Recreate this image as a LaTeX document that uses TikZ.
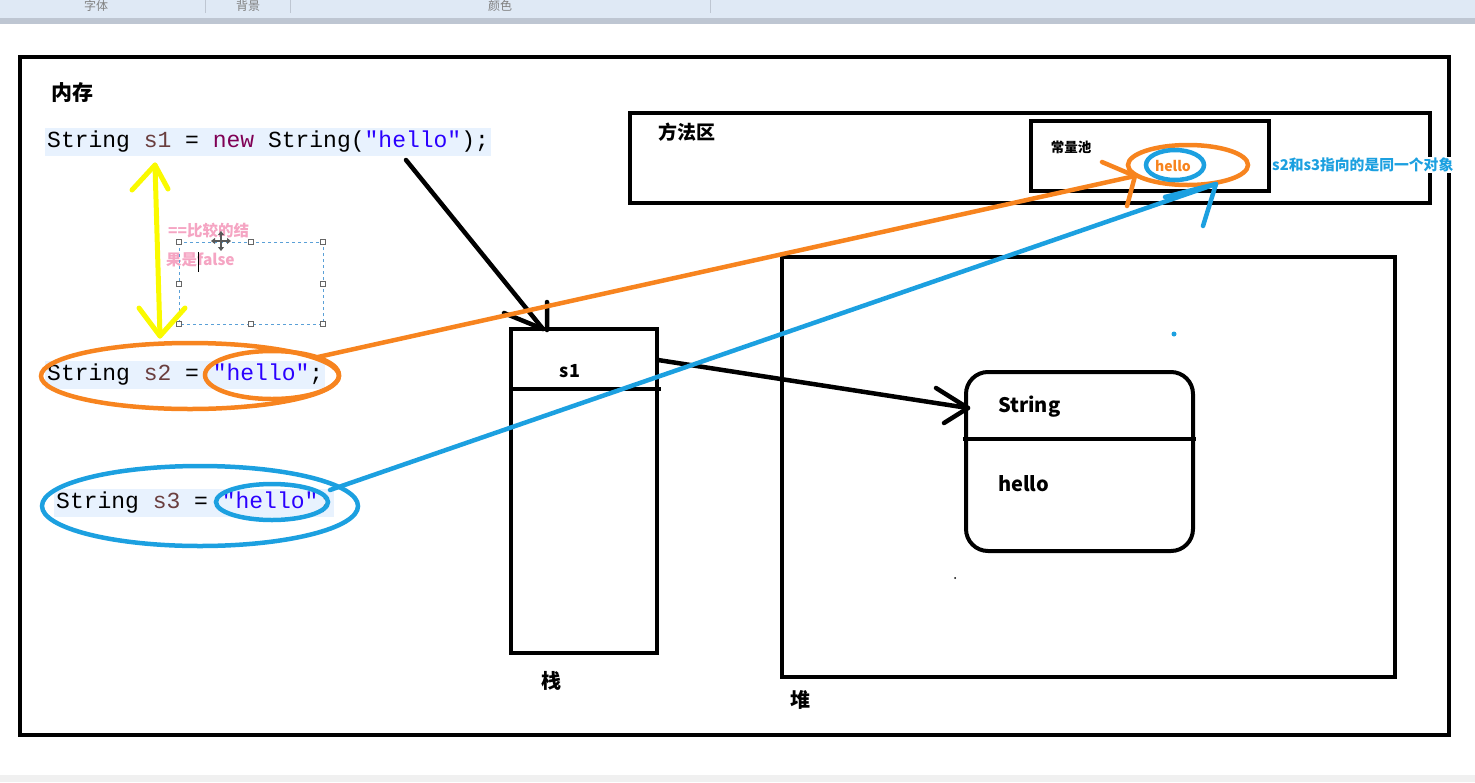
\documentclass[tikz,border=0pt]{standalone}
\usepackage{fontspec}
\setmonofont{Liberation Mono}
\newfontfamily\cjk{Noto Sans CJK SC}
\usetikzlibrary{shapes.geometric,arrows.meta}
\definecolor{orng}{RGB}{247,132,31}
\definecolor{blu}{RGB}{28,160,224}
\definecolor{yel}{RGB}{250,250,0}
\definecolor{pnk}{RGB}{245,165,195}
\definecolor{hl}{RGB}{232,242,254}
\definecolor{kw}{RGB}{127,0,85}
\definecolor{vr}{RGB}{106,62,62}
\definecolor{str}{RGB}{42,0,255}
\definecolor{tb}{RGB}{223,233,245}
\definecolor{tbline}{RGB}{190,198,210}
\definecolor{selb}{RGB}{90,160,215}
\tikzset{
  box/.style={draw=black,line width=4pt},
  code/.style={fill=hl,inner xsep=2pt,inner ysep=0pt,minimum height=28pt,anchor=west,font=\ttfamily\fontsize{23}{25}\selectfont},
  lbl/.style={inner sep=0pt,font=\cjk\bfseries\fontsize{#1}{#1}\selectfont},
  ell/.style={ellipse,draw=#1,line width=4.5pt,inner sep=0pt},
  stroke/.style={line width=4.5pt,line cap=round,line join=round},
  handle/.style={draw=gray!80!black,fill=white,line width=0.6pt,minimum size=5pt,inner sep=0pt},
  tbt/.style={inner sep=0pt,text=gray,font=\cjk\fontsize{12}{12}\selectfont}
}
\begin{document}
\begin{tikzpicture}[x=1pt,y=-1pt]
\useasboundingbox (0,0) rectangle (1475,782);
% toolbar
\fill[tb] (0,0) rectangle (1475,18);
\fill[tbline] (0,18) rectangle (1475,24);
\fill[gray!12] (0,775) rectangle (1475,782);
\node[tbt] (t1) at (96,6) {字体};
\node[tbt] (t2) at (248,6) {背景};
\node[tbt] (t3) at (500,6) {颜色};
\draw[tbline,line width=1pt] (205,0) -- (205,13) (290,0) -- (290,13) (710,0) -- (710,13);
% outer memory box
\draw[box,line width=4.5pt] (20,57) rectangle (1449,735);
\node[lbl=21] (mem) at (72,93) {内存};
% code lines
\node[code] (c1) at (45,142) {String \textcolor{vr}{s1} = \textcolor{kw}{new} String(\textcolor{str}{"hello"});};
\node[code] (c2) at (45,375) {String \textcolor{vr}{s2} = \textcolor{str}{"hello"};};
\node[code] (c3) at (54,503) {String \textcolor{vr}{s3} = \textcolor{str}{"hello"};};
% pink note and selection box
\node[lbl=15.5,text=pnk,anchor=west] (n1) at (168,231) {==比较的结};
\node[lbl=15.5,text=pnk,anchor=west] (n2) at (166,260) {果是false};
\draw[selb,dashed,line width=1pt] (179,242) rectangle (323,324);
\foreach \p/\q in {179/242,251/242,323/242,179/284,323/284,179/324,251/324,323/324}
  \node[handle] at (\p,\q) {};
\draw[black,line width=1pt] (198,252) -- (198,272);
% move cursor
\begin{scope}[shift={(221,241)}]
  \draw[gray!70!black,line width=1.2pt,{Triangle[width=6pt,length=4pt]}-{Triangle[width=6pt,length=4pt]}] (-10,0) -- (10,0);
  \draw[gray!70!black,line width=1.2pt,{Triangle[width=6pt,length=4pt]}-{Triangle[width=6pt,length=4pt]}] (0,-10) -- (0,10);
\end{scope}
% yellow double arrow
\coordinate (y1) at (155,165);
\coordinate (y2) at (160,336);
\coordinate (y1a) at (132,190);
\coordinate (y1b) at (168,189);
\coordinate (y2a) at (139,308);
\coordinate (y2b) at (185,308);
\draw[stroke,yel,line width=5pt] (y1) -- (y2);
\draw[stroke,yel,line width=5pt] (y1a) -- (y1) -- (y1b);
\draw[stroke,yel,line width=5pt] (y2a) -- (y2) -- (y2b);
% method area and constant pool
\draw[box] (630,113) rectangle (1430,203);
\node[lbl=19] (ma) at (687,132) {方法区};
\draw[box] (1031,121) rectangle (1269,191);
\node[lbl=13.5] (cp) at (1071,147) {常量池};
\node[ell=orng,minimum width=120pt,minimum height=40pt] (po) at (1188,165) {};
\node[ell=blu,minimum width=58pt,minimum height=30pt] (pb) at (1175,165) {};
\node[lbl=14,text=orng] (ph) at (1173,166) {hello};
\node[lbl=14.8,text=blu,anchor=west,fill=white,inner xsep=1pt,inner ysep=1pt] (note) at (1271,165) {s2和s3指向的是同一个对象};
% ellipses around code
\node[ell=orng,minimum width=298pt,minimum height=66pt] (e2) at (190,376) {};
\node[ell=orng,minimum width=134pt,minimum height=48pt] (e2s) at (272,375) {};
\node[ell=blu,minimum width=316pt,minimum height=80pt] (e3) at (200,506) {};
\node[ell=blu,minimum width=112pt,minimum height=36pt] (e3s) at (272,502) {};
% stack
\draw[box] (511,329) rectangle (657,653);
\coordinate (sd1) at (511,389);
\coordinate (sd2) at (661,389);
\draw[box] (sd1) -- (sd2);
\node[lbl=18] (s1) at (570,371) {s1};
\node[lbl=20] (zhan) at (551,681) {栈};
% heap
\draw[box] (782,257) rectangle (1395,677);
\node[lbl=20] (dui) at (800,700) {堆};
\draw[box,rounded corners=22pt] (966,372) rectangle (1193,551);
\coordinate (od1) at (963,439);
\coordinate (od2) at (1196,439);
\draw[box] (od1) -- (od2);
\node[lbl=20,anchor=west] (os) at (998,407) {String};
\node[lbl=20,anchor=west] (oh) at (998,484) {hello};
\fill[black] (955,578) circle (1pt);
\fill[blu] (1174,334) circle (2.5pt);
% black arrow code -> stack
\coordinate (k0) at (406,160);
\coordinate (k1) at (543,329);
\coordinate (k1a) at (504,313);
\coordinate (k1b) at (547,302);
\draw[stroke] (k0) -- (k1);
\draw[stroke] (k1a) -- (k1) (k1b) -- (547,330);
% black arrow stack -> object
\coordinate (m0) at (658,360);
\coordinate (m1) at (968,408);
\coordinate (m1a) at (936,388);
\coordinate (m1b) at (944,423);
\draw[stroke] (m0) -- (m1);
\draw[stroke] (m1a) -- (m1) -- (m1b);
% orange arrow
\coordinate (o0) at (318,357);
\coordinate (o1) at (1135,176);
\coordinate (o1a) at (1102,162);
\coordinate (o1b) at (1127,206);
\draw[stroke,orng] (o0) -- (o1);
\draw[stroke,orng] (o1a) -- (o1) -- (o1b);
% blue arrow
\coordinate (b0) at (330,490);
\coordinate (b1) at (1216,184);
\coordinate (b1a) at (1165,197);
\coordinate (b1b) at (1203,226);
\draw[stroke,blu] (b0) -- (b1);
\draw[stroke,blu] (b1a) -- (b1) -- (b1b);
\end{tikzpicture}
\end{document}
